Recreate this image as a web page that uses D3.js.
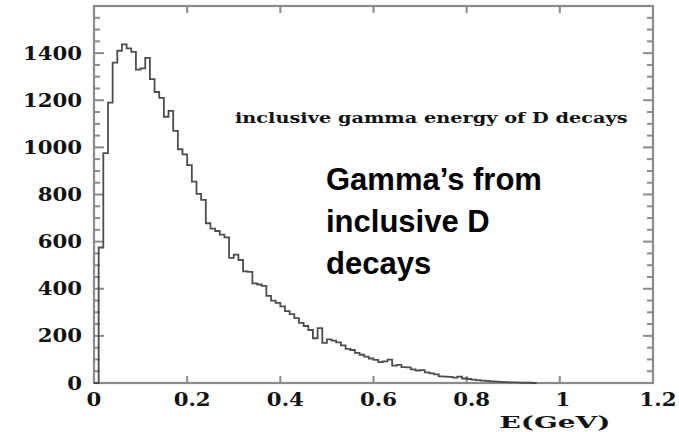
<!DOCTYPE html>
<html>
<head>
<meta charset="utf-8">
<script src="https://cdn.jsdelivr.net/npm/d3@7"></script>
<style>
  html, body { margin: 0; padding: 0; background: #fff; }
  svg { display: block; }
</style>
</head>
<body>
<svg id="chart" width="679" height="432"></svg>
<script>
// ---- data ----
const binWidth = 0.01;            // GeV per bin
const counts = [
  0, 575, 976, 1190, 1360, 1410, 1437, 1420, 1405, 1330,
  1335, 1380, 1290, 1235, 1210, 1130, 1155, 1070, 992, 970,
  925, 855, 803, 777, 678, 655, 645, 630, 618, 531,
  545, 522, 474, 472, 423, 418, 412, 370, 350, 340,
  325, 305, 292, 275, 255, 242, 225, 190, 233, 170,
  185, 180, 172, 160, 145, 140, 128, 120, 112, 104,
  98, 89, 92, 99, 74, 77, 67, 66, 58, 53,
  55, 45, 41, 37, 28, 27, 26, 23, 27, 19,
  17, 14, 12, 10, 9, 7, 6, 5, 4, 3,
  3, 2, 1, 1, 0
];
const xTicks = [0, 0.2, 0.4, 0.6, 0.8, 1, 1.2];
const xTickLabels = ["0", "0.2", "0.4", "0.6", "0.8", "1", "1.2"];
const yTicks = [0, 200, 400, 600, 800, 1000, 1200, 1400];
const yMinorStep = 50;
const xTitle = "E(GeV)";
const histTitle = "inclusive gamma energy of D decays";
const noteLines = ["Gamma\u2019s from", "inclusive D", "decays"];

// ---- layout ----
const svg = d3.select("#chart");
const x = d3.scaleLinear().domain([0, 1.2]).range([94, 653]);
const y = d3.scaleLinear().domain([0, 1600]).range([383, 6]);
const frameColor = "#8a8a8a";
const serif = "'DejaVu Serif', 'Liberation Serif', serif";

// frame
svg.append("rect")
  .attr("x", x(0)).attr("y", y(1600))
  .attr("width", x(1.2) - x(0)).attr("height", y(0) - y(1600))
  .attr("fill", "none").attr("stroke", frameColor).attr("stroke-width", 2.2);

// y ticks (left and right, inward)
const yMinor = d3.range(0, 1600 + 1, yMinorStep);
const tickG = svg.append("g").attr("stroke", frameColor).attr("stroke-width", 2);
yMinor.forEach(v => {
  const major = v % 200 === 0;
  const len = major ? 10 : 6;
  tickG.append("line").attr("x1", x(0)).attr("x2", x(0) + len)
    .attr("y1", y(v)).attr("y2", y(v));
  tickG.append("line").attr("x1", x(1.2)).attr("x2", x(1.2) - len)
    .attr("y1", y(v)).attr("y2", y(v));
});
// x ticks (bottom and top, inward)
xTicks.forEach(v => {
  tickG.append("line").attr("x1", x(v)).attr("x2", x(v))
    .attr("y1", y(0)).attr("y2", y(0) - 7);
  tickG.append("line").attr("x1", x(v)).attr("x2", x(v))
    .attr("y1", y(1600)).attr("y2", y(1600) + 7);
});

// histogram
const pts = [[0, 0]];
counts.forEach((c, i) => pts.push([i * binWidth, c]));
pts.push([counts.length * binWidth, 0]);
const line = d3.line().x(d => x(d[0])).y(d => y(d[1])).curve(d3.curveStepAfter);
svg.append("path").datum(pts)
  .attr("d", line)
  .attr("fill", "none")
  .attr("stroke", "#4d4d4d")
  .attr("stroke-width", 1.8)
  .attr("stroke-linejoin", "miter");

// helper: horizontally stretched serif text
function stretchText(txt, px, py, anchor, size, sx) {
  const g = svg.append("g");
  const t = g.append("text").text(txt)
    .attr("text-anchor", anchor)
    .attr("font-family", serif).attr("font-weight", "bold")
    .attr("font-size", size).attr("fill", "#111");
  g.attr("transform", `translate(${px},${py}) scale(${sx},1)`);
  return t;
}
function stretchToWidth(txt, px, py, anchor, size, width) {
  const g = svg.append("g");
  const t = g.append("text").text(txt)
    .attr("text-anchor", anchor)
    .attr("font-family", serif).attr("font-weight", "bold")
    .attr("font-size", size).attr("fill", "#111");
  const w = t.node().getBBox().width;
  g.attr("transform", `translate(${px},${py}) scale(${width / w},1)`);
  return t;
}

// y tick labels
yTicks.forEach(v => {
  stretchText(String(v), 82, y(v) + 6.5, "end", 18, 1.18);
});
// x tick labels
xTicks.forEach((v, i) => {
  const lbl = xTickLabels[i];
  const dx = lbl.includes(".") ? 5 : (v === 0 ? 0 : 3);
  stretchText(lbl, x(v) + dx, 406, "middle", 18, 1.18);
});

// axis title
stretchToWidth(xTitle, 555, 428, "middle", 17, 111);
// histogram title
stretchToWidth(histTitle, 235, 123, "start", 14, 393);

// big annotation
const note = svg.append("text")
  .attr("font-family", "'Liberation Sans', Arial, sans-serif")
  .attr("font-weight", "bold").attr("font-size", 31).attr("fill", "#000");
noteLines.forEach((s, i) => {
  note.append("tspan").attr("x", 326).attr("y", 190 + i * 42).text(s);
});
</script>
</body>
</html>
